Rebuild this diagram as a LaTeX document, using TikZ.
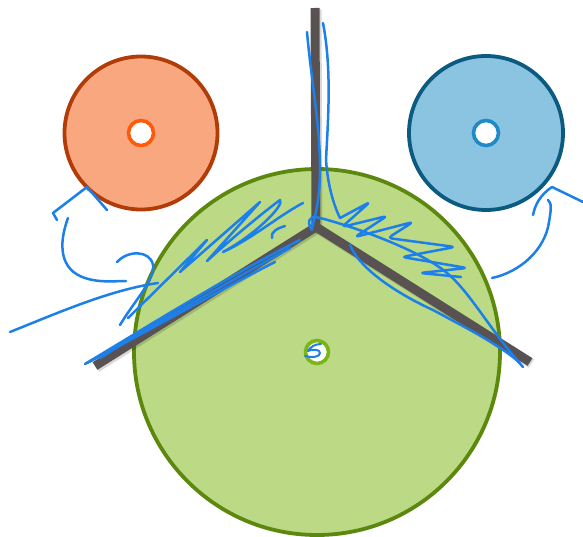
\documentclass[tikz,border=0pt]{standalone}
\usetikzlibrary{calc}
\definecolor{orfill}{HTML}{F9A77E}
\definecolor{ordraw}{HTML}{B23C08}
\definecolor{orring}{HTML}{FF5A0A}
\definecolor{blfill}{HTML}{8BC4E0}
\definecolor{bldraw}{HTML}{0B5A80}
\definecolor{blring}{HTML}{1E8BC8}
\definecolor{grfill}{HTML}{BCD985}
\definecolor{grdraw}{HTML}{5C880E}
\definecolor{grring}{HTML}{7CB518}
\definecolor{arm}{HTML}{595253}
\definecolor{ink}{HTML}{1C7FEA}
\tikzset{
  disc/.style={circle, inner sep=0pt, line width=3.8pt},
  hub/.style={circle, inner sep=0pt, line width=3.6pt, fill=white},
  armline/.style={draw=arm, line width=9pt},
  armshadow/.style={draw=black, opacity=0.15, line width=10pt},
  scribble/.style={draw=ink, line width=2.5pt, line cap=round, line join=round},
}
\begin{document}
\begin{tikzpicture}[x=1pt,y=-1pt]
\useasboundingbox (0,0) rectangle (583,537);
% discs
\node[disc, draw=grdraw, fill=grfill, minimum size=366pt] (green) at (317,352) {};
\node[disc, draw=ordraw, fill=orfill, minimum size=153pt] (orange) at (141,133) {};
\node[disc, draw=bldraw, fill=blfill, minimum size=154pt] (blue) at (486,133) {};
\node[hub, draw=orring, minimum size=25pt] (ohub) at (orange.center) {};
\node[hub, draw=blring, minimum size=25pt] (bhub) at (blue.center) {};
\node[hub, draw=grring, minimum size=23pt] (ghub) at (green.center) {};
% arms
\coordinate (j) at (316,227);
\coordinate (atop) at (315,8);
\coordinate (aleft) at (95,366);
\coordinate (aright) at (530,362);
\draw[armshadow] ($(atop)+(1.5,1.5)$) -- ($(j)+(1.5,1.5)$) -- ($(aleft)+(1.5,1.5)$);
\draw[armshadow] ($(j)+(1.5,1.5)$) -- ($(aright)+(1.5,1.5)$);
\draw[armline, line join=miter] (atop) -- (j) -- (aleft);
\draw[armline] (j) -- (aright);
% scribbles: left arrow
\draw[scribble] (107,210) -- (87,187) -- (53,213) -- (57,220);
\draw[scribble] (68,218) .. controls (58,245) and (60,270) .. (85,278) .. controls (100,283) and (115,281) .. (126,281);
\draw[scribble] (10,332) .. controls (60,312) and (110,290) .. (158,283);
\draw[scribble] (117,262) .. controls (128,250) and (150,250) .. (153,265) .. controls (155,280) and (135,300) .. (120,325);
% hatching on left arm
\draw[scribble] (128,318) -- (207,240) -- (180,272) -- (260,202) -- (207,261) .. controls (230,240) and (260,215) .. (280,200)
  .. controls (285,205) and (255,235) .. (223,252) .. controls (250,240) and (280,215) .. (303,203);
\draw[scribble] (272,238) .. controls (270,232) and (278,228) .. (285,226);
\draw[scribble] (85,364) .. controls (150,325) and (230,275) .. (300,240);
\draw[scribble] (87,363) .. controls (150,330) and (220,290) .. (275,262);
\draw[scribble] (100,358) .. controls (160,320) and (230,282) .. (290,248);
% vertical strokes
\draw[scribble] (307,32) .. controls (312,90) and (325,150) .. (318,200) .. controls (316,215) and (312,225) .. (312,230);
\draw[scribble] (323,23) .. controls (332,70) and (328,120) .. (326,160) .. controls (328,190) and (336,210) .. (340,218);
\draw[scribble] (312,230) .. controls (306,222) and (310,216) .. (316,217) .. controls (350,225) and (420,250) .. (447,273)
  .. controls (470,292) and (490,330) .. (523,367);
% zigzag along right arm
\draw[scribble, rounded corners=4pt] (340,218) -- (370,202) -- (342,227) -- (387,216) -- (355,237) -- (413,222) -- (388,238) -- (455,247)
  -- (402,257) -- (467,268) -- (420,273) -- (461,277);
\draw[scribble] (350,245) .. controls (360,270) and (400,295) .. (433,310) .. controls (470,330) and (500,345) .. (520,363);
% right arrow
\draw[scribble] (492,278) .. controls (520,272) and (545,250) .. (549,222) .. controls (551,210) and (552,203) .. (548,200);
\draw[scribble] (533,215) .. controls (535,205) and (540,195) .. (552,187) -- (583,202);
% scribble in green hub
\draw[scribble, line width=2pt] (321,344) .. controls (315,344) and (310,347) .. (308,351) .. controls (312,349) and (320,349) .. (320,353)
  .. controls (320,357) and (312,358) .. (305,356);
\end{tikzpicture}
\end{document}
